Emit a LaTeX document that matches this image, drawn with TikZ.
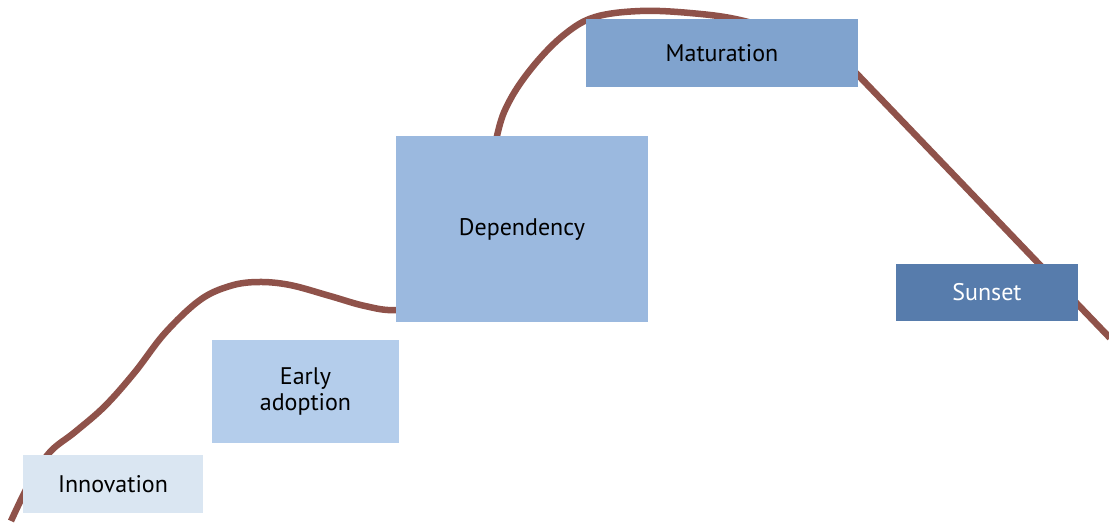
\documentclass[tikz,border=0pt]{standalone}
\usepackage{fontspec}
\setmainfont{PT Sans}
\definecolor{curvebrown}{RGB}{143,82,74}
\definecolor{innovfill}{RGB}{218,230,242}
\definecolor{earlyfill}{RGB}{180,205,235}
\definecolor{dependfill}{RGB}{155,185,223}
\definecolor{maturfill}{RGB}{128,163,206}
\definecolor{sunsetfill}{RGB}{87,124,172}
\tikzset{stage/.style={rectangle,inner sep=0pt,align=center,text=black,
  font=\fontsize{24}{26}\selectfont}}

\begin{document}
\begin{tikzpicture}[x=1pt,y=-1pt]
      \useasboundingbox (0,0) rectangle (1109,523);
      % life cycle curve, behind the boxes
      \draw[curvebrown,line width=6.5pt] plot[smooth,tension=0.6] coordinates {
        (11,521) (30,482) (50,452) (75,432) (105,406) (135,372) (165,333)
        (200,300) (230,286) (258,282) (290,285) (330,296) (365,306) (396,310)
        (440,302) (485,210) (497,136) (510,100) (535,64) (565,34) (595,17) (640,11)
        (690,13) (740,20) (800,38) (840,56) (858,75) (950,171) (1040,265) (1110,338)};
      \node[stage,fill=innovfill,minimum width=180pt,minimum height=58pt] (innov) at (113,484) {Innovation};
      \node[stage,fill=earlyfill,minimum width=187pt,minimum height=103pt] (early) at (305.5,391.5) {Early\\adoption};
      \node[stage,fill=dependfill,minimum width=252pt,minimum height=186pt] (depend) at (522,229) {Dependency};
      \node[stage,fill=maturfill,minimum width=272pt,minimum height=68pt] (matur) at (722,53) {Maturation};
      \node[stage,fill=sunsetfill,text=white,minimum width=182pt,minimum height=57pt] (sunset) at (987,292.5) {Sunset};
\end{tikzpicture}
\end{document}
